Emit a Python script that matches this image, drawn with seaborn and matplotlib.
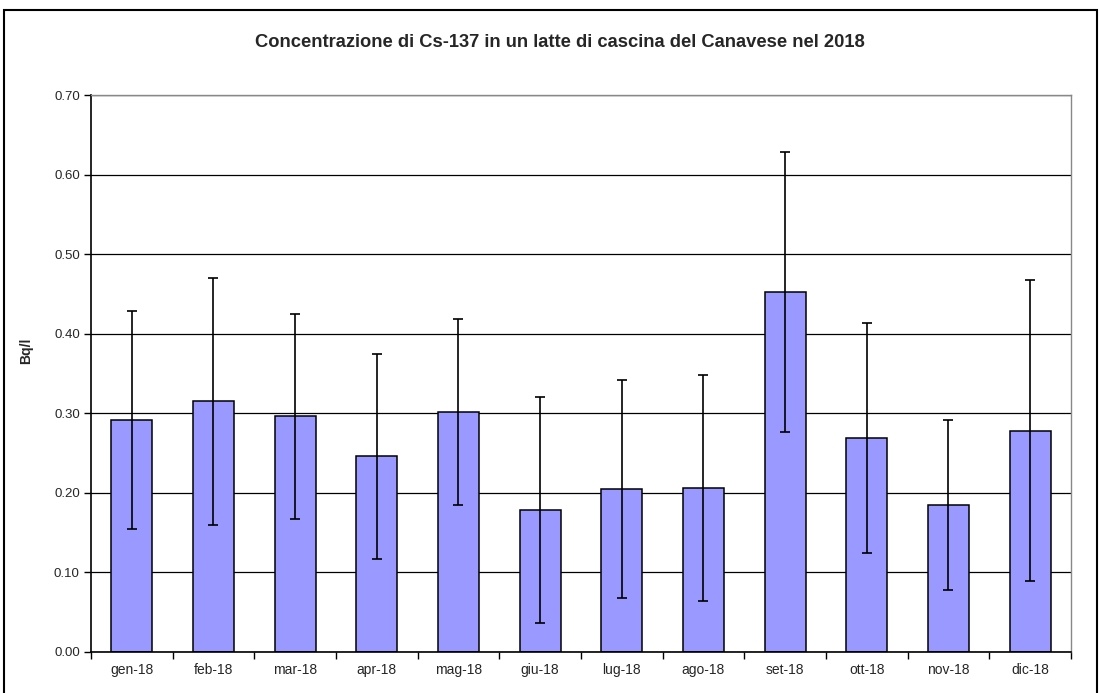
import numpy as np
import pandas as pd
import seaborn as sns
import matplotlib
matplotlib.use('Agg')
import matplotlib.pyplot as plt
from matplotlib.patches import Rectangle
from matplotlib.ticker import MultipleLocator, FormatStrFormatter

# Data
months = ['gen-18', 'feb-18', 'mar-18', 'apr-18', 'mag-18', 'giu-18',
          'lug-18', 'ago-18', 'set-18', 'ott-18', 'nov-18', 'dic-18']
cs137 = [0.291, 0.315, 0.296, 0.246, 0.302, 0.179,
         0.205, 0.206, 0.452, 0.269, 0.185, 0.278]
uncert = [0.137, 0.155, 0.129, 0.129, 0.117, 0.142,
          0.137, 0.142, 0.176, 0.144, 0.107, 0.189]

df = pd.DataFrame({'Mese': months, 'Cs137': cs137, 'Err': uncert})

sns.set_style('white')
plt.rcParams['font.family'] = ['Liberation Sans', 'DejaVu Sans']

fig = plt.figure(figsize=(11, 6.93), dpi=100)
ax = fig.add_axes([0.0827, 0.0592, 0.8909, 0.8037])

sns.barplot(data=df, x='Mese', y='Cs137', color='#9999FF', saturation=1,
            edgecolor='black', linewidth=1.1, width=0.5, errorbar=None, ax=ax)

xpos = np.arange(len(months))
ax.errorbar(xpos, df['Cs137'], yerr=df['Err'], fmt='none', ecolor='black',
            elinewidth=1.2, capsize=3.3, capthick=1.2, zorder=5)

ax.set_ylim(0, 0.70)
ax.set_xlim(-0.5, len(months) - 0.5)
ax.yaxis.set_major_locator(MultipleLocator(0.1))
ax.yaxis.set_major_formatter(FormatStrFormatter('%.2f'))
ax.grid(axis='y', color='black', linewidth=0.9)
ax.set_axisbelow(True)

# category ticks between bars, like the original
ax.set_xticks(xpos)
ax.set_xticks(np.arange(-0.5, len(months), 1), minor=True)
ax.tick_params(axis='x', which='major', length=0, labelsize=10, pad=8)
ax.tick_params(axis='x', which='minor', length=5, width=1, color='black',
               direction='out', bottom=True)
ax.tick_params(axis='y', length=5, width=1, color='black', direction='out',
               left=True, labelsize=9.5, pad=3)

for side in ['left', 'bottom']:
    ax.spines[side].set_color('black')
    ax.spines[side].set_linewidth(1.2)
for side in ['top', 'right']:
    ax.spines[side].set_color('#888888')
    ax.spines[side].set_linewidth(1)

ax.set_xlabel('')
ax.set_ylabel('Bq/l', fontsize=10, fontweight='bold')
ax.yaxis.set_label_coords(-0.059, 0.54)
fig.text(0.509, 0.938, 'Concentrazione di Cs-137 in un latte di cascina del Canavese nel 2018',
         ha='center', va='center', fontsize=13.2, fontweight='bold')

# outer chart frame
fig.patches.append(Rectangle((0.004, -0.02), 0.993, 1.006,
                             transform=fig.transFigure, fill=False,
                             edgecolor='black', linewidth=1.5))

fig.savefig('out.png', dpi=100)
